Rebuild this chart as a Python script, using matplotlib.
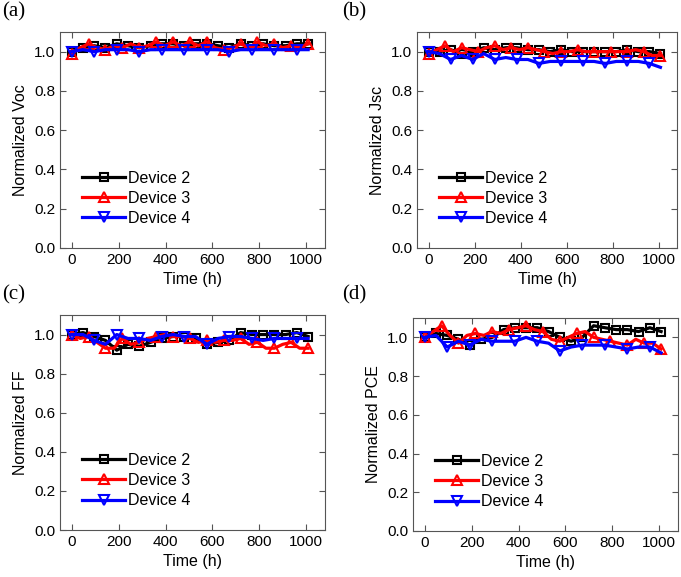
import numpy as np
import matplotlib
matplotlib.use("Agg")
import matplotlib.pyplot as plt

plt.rcParams["font.family"] = ["Liberation Sans", "DejaVu Sans"]

# measurement times (h)
timeBlack = np.arange(0, 1009, 48)
timeRed = np.arange(0, 1009, 36)
timeBlue = np.arange(0, 1009, 48)

labels = ["Device 2", "Device 3", "Device 4"]
panelLetters = ["(a)", "(b)", "(c)", "(d)"]
yLabels = ["Normalized Voc", "Normalized Jsc", "Normalized FF", "Normalized PCE"]

vocBlack = [1.0, 1.02, 1.03, 1.02, 1.04, 1.03, 1.02, 1.03, 1.04, 1.04, 1.03,
            1.04, 1.04, 1.03, 1.02, 1.04, 1.03, 1.04, 1.03, 1.03, 1.04, 1.04]
vocRed = [0.99, 1.02, 1.04, 1.02, 1.01, 1.03, 1.02, 1.04, 1.02, 1.03, 1.05,
          1.03, 1.05, 1.03, 1.05, 1.03, 1.05, 1.02, 1.01, 1.02, 1.04, 1.02,
          1.05, 1.03, 1.04, 1.02, 1.03, 1.02, 1.04]
vocBlue = [1.0, 1.01, 1.0, 1.01, 1.01, 1.01, 1.0, 1.01, 1.01, 1.01, 1.01,
           1.01, 1.01, 1.01, 1.0, 1.01, 1.01, 1.01, 1.01, 1.01, 1.01, 1.01]

jscBlack = [1.0, 1.0, 1.01, 0.99, 1.0, 1.02, 1.01, 1.02, 1.02, 1.01, 1.01,
            1.0, 1.01, 1.0, 1.0, 1.0, 1.0, 1.0, 1.01, 1.0, 1.0, 0.99]
jscRed = [0.99, 1.01, 1.03, 1.0, 1.02, 1.01, 1.0, 1.02, 1.03, 1.01, 1.02,
          1.01, 1.02, 1.01, 1.0, 0.99, 1.0, 1.0, 1.01, 1.0, 1.0, 1.0,
          1.0, 1.0, 1.0, 1.01, 1.0, 0.98, 0.98]
jscBlue = [1.0, 0.99, 0.96, 0.98, 0.96, 0.99, 0.96, 0.97, 0.96, 0.96, 0.94,
           0.95, 0.95, 0.95, 0.95, 0.95, 0.94, 0.95, 0.95, 0.95, 0.94, 0.92]

ffBlack = [1.0, 1.01, 0.99, 0.97, 0.92, 0.95, 0.94, 0.96, 0.98, 0.99, 0.99,
           0.98, 0.95, 0.96, 0.97, 1.01, 1.0, 1.0, 1.0, 1.0, 1.01, 0.99]
ffRed = [1.0, 0.98, 0.99, 0.96, 0.93, 0.93, 0.98, 0.95, 0.96, 0.98, 0.99,
         1.0, 0.99, 0.99, 0.98, 0.96, 0.97, 0.96, 0.97, 0.97, 0.98, 0.95,
         0.96, 0.93, 0.93, 0.95, 0.96, 0.93, 0.93]
ffBlue = [1.0, 1.0, 0.97, 0.95, 1.0, 0.98, 0.98, 0.97, 0.99, 1.0, 0.99,
          0.99, 0.95, 0.98, 0.99, 0.99, 0.98, 0.97, 0.98, 0.98, 0.98, 0.98]

pceBlack = [1.0, 1.02, 1.01, 0.99, 0.96, 0.99, 1.0, 1.04, 1.05, 1.05, 1.05,
            1.03, 1.0, 0.98, 1.0, 1.06, 1.05, 1.04, 1.04, 1.03, 1.05, 1.03]
pceRed = [1.0, 1.03, 1.06, 1.01, 0.97, 1.01, 1.02, 1.01, 1.03, 1.02, 1.04,
          1.05, 1.06, 1.04, 1.03, 0.99, 0.98, 1.0, 1.02, 1.03, 1.0, 0.99,
          0.98, 0.97, 0.96, 0.99, 0.97, 0.97, 0.94]
pceBlue = [1.0, 1.01, 0.95, 0.98, 0.96, 0.99, 0.98, 0.98, 0.98, 1.0, 0.98,
           0.97, 0.93, 0.95, 0.96, 0.96, 0.96, 0.95, 0.94, 0.95, 0.95, 0.92]

panelData = [
    (vocBlack, vocRed, vocBlue),
    (jscBlack, jscRed, jscBlue),
    (ffBlack, ffRed, ffBlue),
    (pceBlack, pceRed, pceBlue),
]

W, H = 681, 577
# axes boxes in pixels: left, top, right, bottom
boxes = [(60, 32, 325, 248), (417, 32, 677, 248),
         (60, 315, 325, 530), (413, 318, 678, 531)]
letterPos = [(2, 2), (342, 2), (2, 285), (342, 285)]

fig = plt.figure(figsize=(W / 100, H / 100), dpi=100)

for i, (box, data) in enumerate(zip(boxes, panelData)):
    l, t, r, b = box
    ax = fig.add_axes([l / W, 1 - b / H, (r - l) / W, (b - t) / H])
    black, red, blue = data
    ax.plot(timeBlack, black, color="black", lw=2.3, marker="s", ms=6,
            mfc="none", mew=1.5, label=labels[0])
    ax.plot(timeRed, red, color="red", lw=2.3, marker="^", ms=7,
            mfc="none", mew=1.5, markevery=2, label=labels[1])
    ax.plot(timeBlue, blue, color="blue", lw=2.3, marker="v", ms=7,
            mfc="none", mew=1.5, markevery=2, label=labels[2])

    ax.set_xlim(-50, 1080)
    ax.set_ylim(0, 1.1)
    ax.set_xticks(np.arange(0, 1001, 200))
    ax.set_yticks(np.arange(0, 1.01, 0.2))
    ax.yaxis.set_major_formatter(matplotlib.ticker.FormatStrFormatter("%.1f"))
    ax.tick_params(direction="in", top=True, right=True, length=4,
                   labelsize=11, color="#555555")
    for s in ax.spines.values():
        s.set_color("#555555")
    ax.set_xlabel("Time (h)", fontsize=11.5)
    ax.set_ylabel(yLabels[i], fontsize=11.5)

    ax.legend(loc="lower left", bbox_to_anchor=(0.03, 0.035), frameon=False,
              fontsize=11.5, handlelength=2.7, labelspacing=0.33,
              handletextpad=0.15)

    lx, ly = letterPos[i]
    fig.text(lx / W, 1 - ly / H, panelLetters[i], fontsize=15,
             family="Liberation Serif", va="top", ha="left")

fig.savefig("out.png", dpi=100)
